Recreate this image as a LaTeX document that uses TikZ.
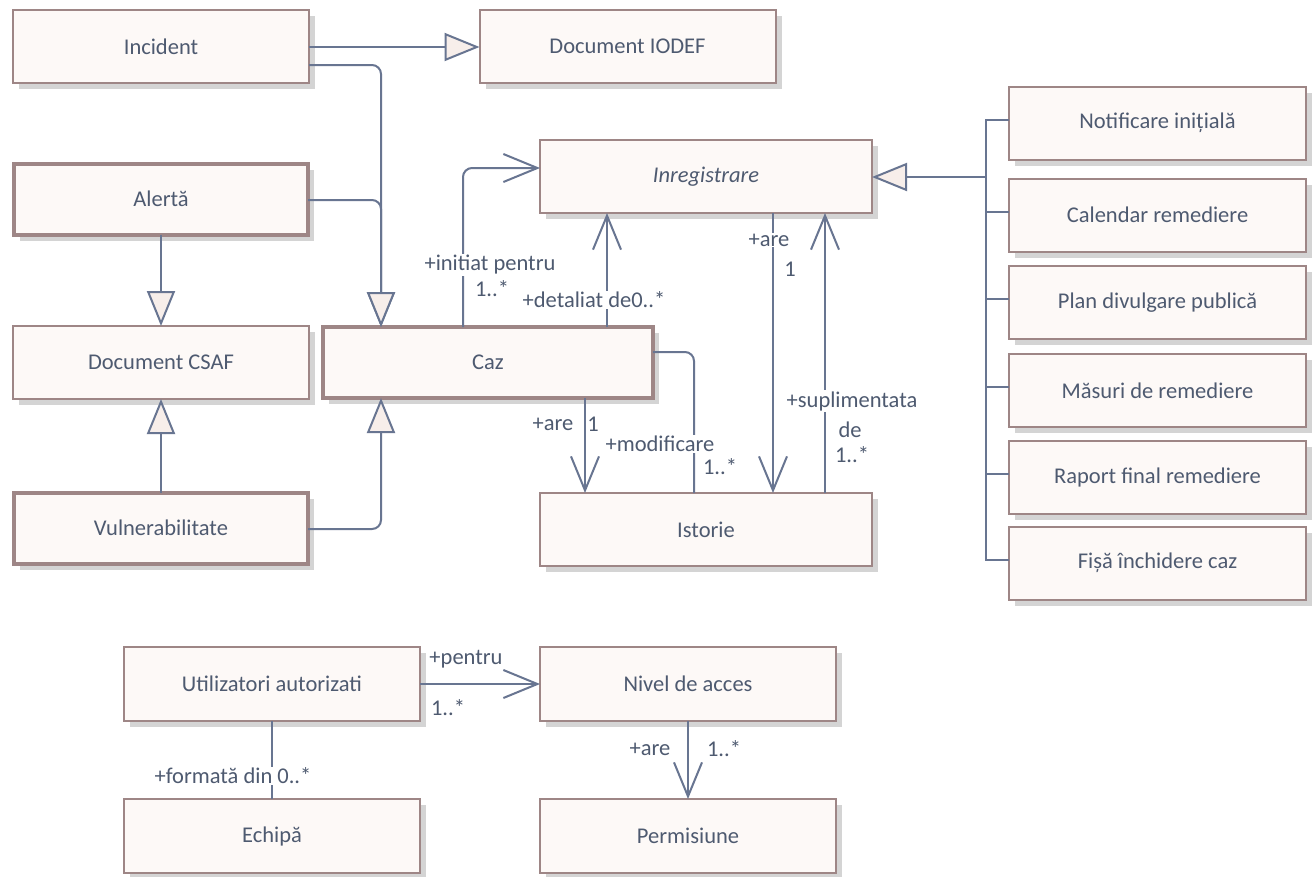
\documentclass[tikz,border=0pt]{standalone}
\usepackage{fontspec}
\setmainfont{Carlito}
\usetikzlibrary{arrows.meta,shadows,calc}
\definecolor{boxf}{RGB}{253,249,247}
\definecolor{boxc}{RGB}{158,134,134}
\definecolor{shadc}{RGB}{212,212,212}
\definecolor{linec}{RGB}{104,117,145}
\definecolor{textc}{RGB}{78,90,112}
\definecolor{trif}{RGB}{247,238,234}
\newcommand{\nodefont}{\fontsize{22.5}{27}\selectfont}
\tikzset{
  cls/.style={draw=boxc, fill=boxf, line width=2pt, minimum width=296pt, minimum height=73pt,
    inner sep=0pt, outer sep=0pt, text=textc, font=\nodefont,
    general shadow={fill=shadc, shadow xshift=6pt, shadow yshift=-6pt}},
  heavy/.style={cls, line width=4pt, minimum width=294pt, minimum height=71pt},
  wide/.style={minimum width=332pt},
  conn/.style={draw=linec, line width=2pt},
  gen/.style={conn, -{Triangle[length=35pt,width=28pt,fill=trif]}},
  assoc/.style={conn, -{Straight Barb[length=34pt,width=28pt]}},
  lab/.style={font=\nodefont, text=textc, inner sep=1pt},
  labw/.style={lab, fill=white},
}
\begin{document}
\begin{tikzpicture}[x=1pt,y=-1pt]
\fill[white] (0,0) rectangle (1314,876);
\useasboundingbox (0,0) rectangle (1314,876);

% classes
\node[cls] (inc) at (161,46.5) {Incident};
\node[cls] (iodef) at (627.5,46.5) {Document IODEF};
\node[heavy] (alert) at (161,199) {Alertă};
\node[cls] (csaf) at (161,362.5) {Document CSAF};
\node[heavy] (vuln) at (161,528) {Vulnerabilitate};
\node[heavy, minimum width=330pt] (caz) at (488,362.5) {Caz};
\node[cls, wide] (inreg) at (706,176.5) {\itshape Inregistrare};
\node[cls, wide] (ist) at (706,529.5) {Istorie};

\node[cls, minimum width=297pt] (n1) at (1157.5,123) {Notificare inițială};
\node[cls, minimum width=297pt] (n2) at (1157.5,215) {Calendar remediere};
\node[cls, minimum width=297pt] (n3) at (1157.5,302.5) {Plan divulgare publică};
\node[cls, minimum width=297pt] (n4) at (1157.5,390.5) {Măsuri de remediere};
\node[cls, minimum width=297pt] (n5) at (1157.5,477.5) {Raport final remediere};
\node[cls, minimum width=297pt] (n6) at (1157.5,563) {Fișă închidere caz};

\node[cls, minimum height=74pt] (util) at (272,684) {Utilizatori autorizati};
\node[cls, minimum height=74pt] (nivel) at (688,684) {Nivel de acces};
\node[cls, minimum height=74pt] (echipa) at (272,836) {Echipă};
\node[cls, minimum height=74pt] (perm) at (688,836) {Permisiune};

% generalisations
\draw[gen] (inc.east |- 0,47) -- (iodef.west |- 0,47);
\draw[gen, rounded corners=9pt] (inc.east |- 0,65) -| (caz.north -| 381,0);
\draw[gen, rounded corners=9pt] (alert.east |- 0,200) -| (caz.north -| 381,0);
\draw[gen] (alert.south) -- (csaf.north);
\draw[gen] (vuln.north) -- (csaf.south);
\draw[gen, rounded corners=9pt] (vuln.east |- 0,529) -| (caz.south -| 381,0);

\coordinate (bus) at (986,177);
\draw[gen] (bus) -- (inreg.east |- bus);
\foreach \b in {n1,n2,n3,n4,n5,n6}{
  \draw[conn] ($(\b.west)+(0,-3.5)$) -| (bus);
}

% associations
\draw[assoc, rounded corners=9pt] (caz.north -| 463,0) |- (inreg.west |- 0,168);
\draw[assoc] (caz.north -| 607,0) -- (inreg.south -| 607,0);
\draw[assoc] (inreg.south -| 773,0) -- (ist.north -| 773,0);
\draw[assoc] (ist.north -| 825,0) -- (inreg.south -| 825,0);
\draw[assoc] (caz.south -| 585,0) -- (ist.north -| 585,0);
\draw[conn, rounded corners=9pt] (caz.east |- 0,352) -| (ist.north -| 694,0);

\draw[assoc] (util.east) -- (nivel.west);
\draw[conn] (util.south) -- (echipa.north);
\draw[assoc] (nivel.south) -- (perm.north);

% labels
\node[labw] (l1) at (490,265) {+initiat pentru};
\node[lab] (l2) at (492,289) {1..*};
\node[labw] (l3) at (594,300) {+detaliat de0..*};
\node[labw] (l4) at (769,240) {+are};
\node[lab] (l5) at (790,269) {1};
\node[labw] (l6) at (852,401) {+suplimentata};
\node[lab] (l7) at (850,430) {de};
\node[lab] (l8) at (852,455) {1..*};
\node[lab] (l9) at (553,424) {+are};
\node[lab] (l10) at (593,424) {1};
\node[labw] (l11) at (660,444) {+modificare};
\node[lab] (l12) at (720,467) {1..*};
\node[lab] (l13) at (466,659) {+pentru};
\node[lab] (l14) at (448,708) {1..*};
\node[labw] (l15) at (233,776) {+formată din 0..*};
\node[lab] (l16) at (650,749) {+are};
\node[lab] (l17) at (724,749) {1..*};
\end{tikzpicture}
\end{document}
